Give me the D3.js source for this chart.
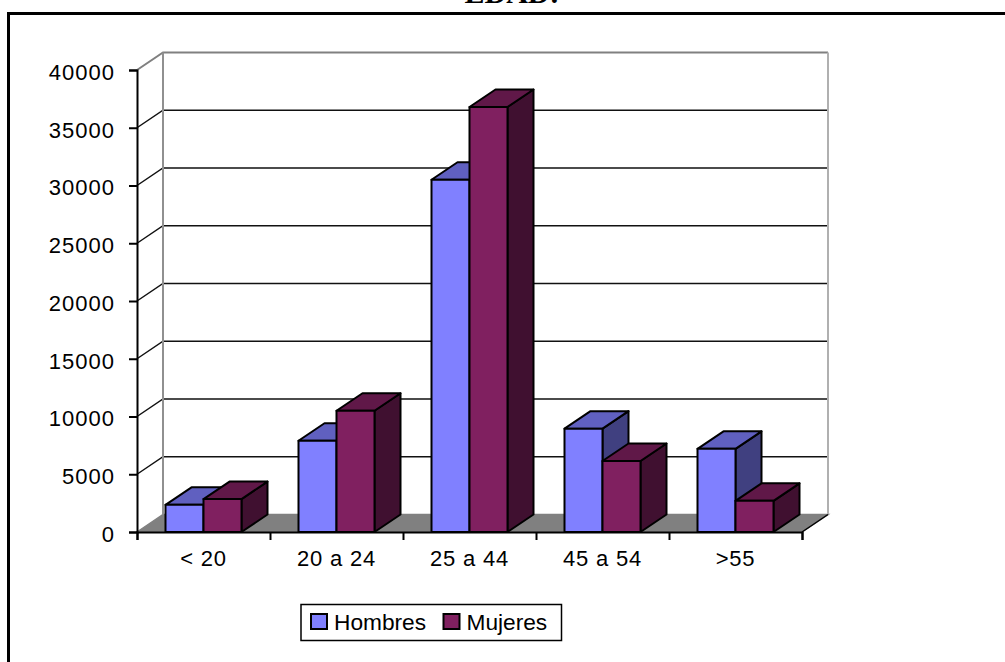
<!DOCTYPE html>
<html>
<head>
<meta charset="utf-8">
<title>EDAD</title>
<script src="https://cdn.jsdelivr.net/npm/d3@7"></script>
<style>
    html, body { margin: 0; padding: 0; background: #fff; overflow: hidden; }
    text { font-family: "Liberation Sans", Arial, sans-serif; fill: #000; }
</style>
</head>
<body>
<div id="chart"></div>
<script>
(function chart() {

    const WIDTH = 1005;
    const HEIGHT = 662;

    // Values
    const categories = ["< 20", "20 a 24", "25 a 44", "45 a 54", ">55"];
    const seriesNames = ["Hombres", "Mujeres"];
    const hombres = [2350, 7900, 30500, 8950, 7200];
    const mujeres = [2850, 10500, 36800, 6150, 2700];
    const yTicks = [0, 5000, 10000, 15000, 20000, 25000, 30000, 35000, 40000];

    // Front, top and side colours for each series
    const front = ["#8080ff", "#802060"];
    const top = ["#6060c0", "#601848"];
    const side = ["#404080", "#401030"];

    // Offset of the back wall from the front plane
    const DX = 26;
    const DY = -17.5;

    const svg = d3.select("#chart").append("svg")
        .attr("width", WIDTH)
        .attr("height", HEIGHT)
        .style("display", "block");

    const x0 = d3.scaleBand().domain(categories).range([137, 802]);
    const x1 = d3.scaleBand().domain(seriesNames).range([0, x0.bandwidth()]).paddingOuter(0.75);
    const y = d3.scaleLinear().domain([0, 40000]).range([532, 70]);

    const poly = pts => "M" + pts.map(p => p.join(",")).join("L") + "Z";

    // Outer frame, only the top and left edges are in the picture
    svg.append("path")
        .attr("d", `M8.5,${HEIGHT}V13.5H${WIDTH}`)
        .attr("fill", "none")
        .attr("stroke", "#000")
        .attr("stroke-width", 3);

    // Title, cut off by the top of the page
    svg.append("text")
        .attr("x", 512)
        .attr("y", 3)
        .attr("text-anchor", "middle")
        .style("font-family", '"Liberation Serif", serif')
        .style("font-weight", "bold")
        .style("font-size", "30px")
        .text("EDAD:");

    // Floor
    const [xl, xr] = x0.range();
    svg.append("path")
        .attr("d", poly([[xl, y(0)], [xl + DX, y(0) + DY], [xr + DX, y(0) + DY], [xr, y(0)]]))
        .attr("fill", "#808080")
        .attr("stroke", "#808080")
        .attr("stroke-width", 1.5);

    // Gridlines with their slanted part on the side wall
    svg.append("g").selectAll("path")
        .data(yTicks.slice(1, -1))
        .join("path")
        .attr("d", d => `M${xl},${y(d)}L${xl + DX},${y(d) + DY}H${xr + DX}`)
        .attr("fill", "none")
        .attr("stroke", "#111")
        .attr("stroke-width", 1.5);

    // Back wall outline
    const yMax = y(40000);
    svg.append("path")
        .attr("d", `M${xl},${yMax}L${xl + DX},${yMax + DY}H${xr + DX}`)
        .attr("fill", "none")
        .attr("stroke", "#808080")
        .attr("stroke-width", 2);
    svg.append("path")
        .attr("d", `M${xl + DX},${yMax + DY}V${y(0) + DY}`)
        .attr("fill", "none")
        .attr("stroke", "#909090")
        .attr("stroke-width", 2);
    svg.append("path")
        .attr("d", `M${xr + DX},${yMax + DY}V${y(0) + DY}`)
        .attr("fill", "none")
        .attr("stroke", "#b0b0b0")
        .attr("stroke-width", 2);
    svg.append("path")
        .attr("d", `M${xr},${y(0)}L${xr + DX},${y(0) + DY}`)
        .attr("fill", "none")
        .attr("stroke", "#000")
        .attr("stroke-width", 1.5);

    // Axes
    const yAxis = svg.append("g")
        .attr("transform", `translate(${xl},0)`)
        .call(d3.axisLeft(y).tickValues(yTicks).tickFormat(d3.format("d")).tickSize(8).tickPadding(14));
    yAxis.selectAll("text")
        .attr("dy", "0.42em")
        .style("font-size", "22px")
        .style("letter-spacing", "1px");
    yAxis.selectAll("line, path").attr("stroke", "#000").attr("stroke-width", 2);

    const xTicks = d3.scaleLinear().domain([0, categories.length]).range(x0.range());
    const xAxisTicks = svg.append("g")
        .attr("transform", `translate(0,${y(0)})`)
        .call(d3.axisBottom(xTicks).tickValues(d3.range(categories.length + 1)).tickFormat("").tickSize(8));
    xAxisTicks.selectAll("line, path").attr("stroke", "#000").attr("stroke-width", 2);

    const xAxisLabels = svg.append("g")
        .attr("transform", `translate(0,${y(0)})`)
        .call(d3.axisBottom(x0).tickSize(0).tickPadding(18));
    xAxisLabels.select(".domain").remove();
    xAxisLabels.selectAll("text")
        .style("font-size", "22px")
        .style("letter-spacing", "0.8px");

    // 3D bars, series by series inside each category
    const bars = categories.flatMap((c, i) => [
        { cat: c, s: 0, value: hombres[i] },
        { cat: c, s: 1, value: mujeres[i] }
    ]);

    const barGroups = svg.append("g").selectAll("g")
        .data(bars)
        .join("g")
        .attr("stroke", "#000")
        .attr("stroke-width", 2)
        .attr("stroke-linejoin", "round");

    const left = d => x0(d.cat) + x1(seriesNames[d.s]);
    const right = d => left(d) + x1.bandwidth();

    barGroups.append("path")
        .attr("fill", d => side[d.s])
        .attr("d", d => poly([
            [right(d), y(d.value)], [right(d) + DX, y(d.value) + DY],
            [right(d) + DX, y(0) + DY], [right(d), y(0)]
        ]));
    barGroups.append("path")
        .attr("fill", d => top[d.s])
        .attr("d", d => poly([
            [left(d), y(d.value)], [left(d) + DX, y(d.value) + DY],
            [right(d) + DX, y(d.value) + DY], [right(d), y(d.value)]
        ]));
    barGroups.append("rect")
        .attr("fill", d => front[d.s])
        .attr("x", left)
        .attr("y", d => y(d.value))
        .attr("width", x1.bandwidth())
        .attr("height", d => y(0) - y(d.value));

    // Legend
    const legend = svg.append("g");
    legend.append("rect")
        .attr("x", 301)
        .attr("y", 604.5)
        .attr("width", 260.5)
        .attr("height", 36)
        .attr("fill", "#fff")
        .attr("stroke", "#000")
        .attr("stroke-width", 1.5);
    const legendX = [311, 443.5];
    const items = legend.selectAll("g")
        .data(seriesNames)
        .join("g")
        .attr("transform", (d, i) => `translate(${legendX[i]},614)`);
    items.append("rect")
        .attr("width", 16)
        .attr("height", 15)
        .attr("fill", (d, i) => front[i])
        .attr("stroke", "#000")
        .attr("stroke-width", 2);
    items.append("text")
        .attr("x", 23)
        .attr("y", 16)
        .style("font-size", "22.7px")
        .text(d => d);

})();
</script>
</body>
</html>
